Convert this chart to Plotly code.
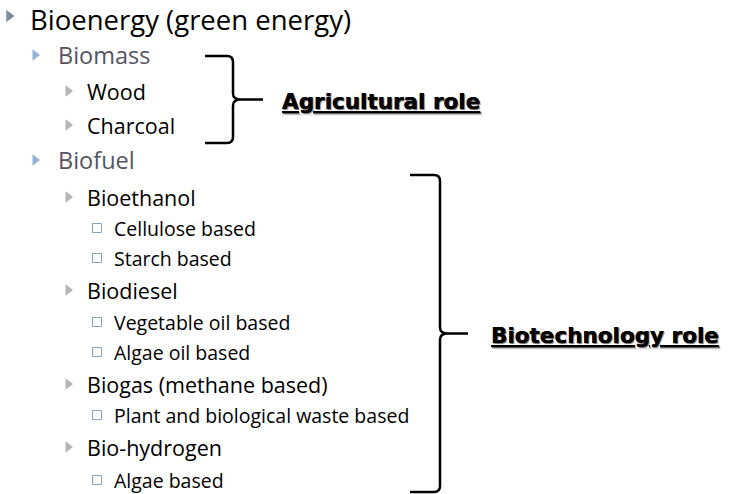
import plotly.graph_objects as go

# ---- content (outline text and hierarchy levels) ----
items = [
    "Bioenergy (green energy)",
    "Biomass",
    "Wood",
    "Charcoal",
    "Biofuel",
    "Bioethanol",
    "Cellulose based",
    "Starch based",
    "Biodiesel",
    "Vegetable oil based",
    "Algae oil based",
    "Biogas (methane based)",
    "Plant and biological waste based",
    "Bio-hydrogen",
    "Algae based",
]
levels = [0, 1, 2, 2, 1, 2, 3, 3, 2, 3, 3, 2, 3, 2, 3]
group_labels = ["Agricultural role", "Biotechnology role"]

# ---- layout (pixel coordinates on a 731x494 canvas) ----
W, H = 731, 494
row_y = [19, 55, 91, 125, 160, 197, 228, 258, 290, 322, 352, 384, 415, 447, 480]
text_x = {0: 28, 1: 56, 2: 85, 3: 112}
bullet_x = {0: 9, 1: 35, 2: 68, 3: 97}
font_size = {0: 27.5, 1: 23.5, 2: 21.5, 3: 19.5}
text_color = {0: "#000000", 1: "#55555f", 2: "#000000", 3: "#000000"}
bullet_style = {
    0: dict(symbol="triangle-right", size=11, color="#7f8ba3"),
    1: dict(symbol="triangle-right", size=10, color="#95b3d7"),
    2: dict(symbol="triangle-right", size=10, color="#b5b5b5"),
    3: dict(symbol="square-open", size=9, color="#8ea0b8"),
}
FONT = "'Open Sans', Lato, sans-serif"
LABEL_FONT = "'DejaVu Sans', sans-serif"

fig = go.Figure()

# bullets
bullet_y = list(row_y)
bullet_y[0] = 16
for lv in sorted(bullet_style):
    ys = [bullet_y[i] for i, l in enumerate(levels) if l == lv]
    st = bullet_style[lv]
    fig.add_trace(go.Scatter(
        x=[bullet_x[lv]] * len(ys), y=ys, mode="markers", hoverinfo="skip",
        marker=dict(symbol=st["symbol"], size=st["size"], color=st["color"],
                    line=dict(width=1 if st["symbol"].endswith("open") else 0, color=st["color"])),
        showlegend=False,
    ))

# outline text
for i, (txt, lv) in enumerate(zip(items, levels)):
    fig.add_annotation(
        x=text_x[lv], y=row_y[i], xref="x", yref="y", text=txt,
        showarrow=False, xanchor="left", yanchor="middle",
        font=dict(family=FONT, size=font_size[lv], color=text_color[lv]),
    )

# braces
brace_geom = [
    dict(x0=205, xv=233, xt=263, y0=56, y1=143),
    dict(x0=410, xv=440, xt=468, y0=175, y1=492),
]
label_x = [280, 489]
for g, lab, lx in zip(brace_geom, group_labels, label_x):
    x0, xv, xt, y0, y1 = g["x0"], g["xv"], g["xt"], g["y0"], g["y1"]
    ym = (y0 + y1) / 2
    r = 6
    path = (
        f"M {x0},{y0} L {xv - r},{y0} Q {xv},{y0} {xv},{y0 + r} "
        f"L {xv},{ym - r} Q {xv},{ym} {xv + r + 2},{ym} L {xt},{ym} "
        f"M {xv + r + 2},{ym} Q {xv},{ym} {xv},{ym + r} "
        f"L {xv},{y1 - r} Q {xv},{y1} {xv - r},{y1} L {x0},{y1}"
    )
    fig.add_shape(type="path", path=path, xref="x", yref="y",
                  line=dict(color="#000000", width=2.5))
    fig.add_annotation(
        x=lx, y=ym + 2, xref="x", yref="y", text=f"<b><u>{lab}</u></b>",
        showarrow=False, xanchor="left", yanchor="middle",
        font=dict(family=LABEL_FONT, size=21.5, color="#000000",
                  shadow="1px 1px 1px rgba(0,0,0,0.35)"),
    )

fig.update_layout(
    width=W, height=H, margin=dict(l=0, r=0, t=0, b=0),
    paper_bgcolor="white", plot_bgcolor="white",
    xaxis=dict(range=[0, W], visible=False, fixedrange=True),
    yaxis=dict(range=[H, 0], visible=False, fixedrange=True),
    showlegend=False,
)

fig.write_html("out.html", config={"displayModeBar": False},
               post_script="document.body.style.margin='0';document.body.style.overflow='hidden';")
